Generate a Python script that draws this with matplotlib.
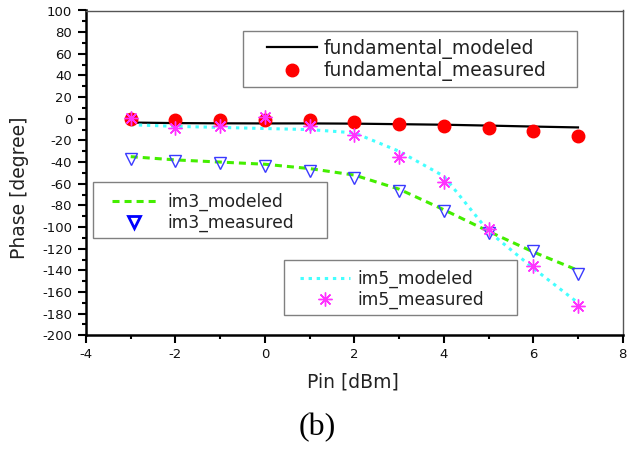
import matplotlib
matplotlib.use('Agg')
import matplotlib.pyplot as plt
from matplotlib.lines import Line2D
from matplotlib.legend import Legend
from matplotlib.patches import Rectangle

plt.rcParams['axes.unicode_minus'] = False

W, H = 638, 449

# data
pin = [-3, -2, -1, 0, 1, 2, 3, 4, 5, 6, 7]
fund_modeled = [-3.5, -4, -4.2, -4.3, -4.3, -4.5, -5, -5.5, -6.3, -7.2, -8]
fund_measured = [0, -1, -1.2, -1.5, -1.5, -3.4, -5, -6.5, -8.6, -11.4, -16]
im3_modeled = [-35, -38, -40, -42, -46, -52, -65, -84, -104, -123, -140]
im3_measured = [-37, -39, -41, -44, -48.6, -55, -67, -85.5, -105.5, -122.5, -143]
im5_modeled = [-5.5, -7, -8, -9, -10, -13, -30, -53, -104, -138, -170]
im5_measured = [1, -8.6, -7, 2, -7, -14.8, -35.4, -58.5, -101.8, -136.4, -173]

xticks = [-4, -2, 0, 2, 4, 6, 8]
yticks = list(range(-200, 101, 20))


def fx(x):
	return x / W


def fy(y):
	return 1 - y / H


fig = plt.figure(figsize=(W / 100, H / 100), dpi=100)
ax = fig.add_axes([fx(86), fy(335.3), (622.7 - 86) / W, (335.3 - 10.5) / H])

l_fm, = ax.plot(pin, fund_modeled, color='black', lw=1.6, zorder=2)
l_3m, = ax.plot(pin, im3_modeled, color='#44ee00', lw=2.2, dashes=(2.3, 1.64), zorder=2)
l_5m, = ax.plot(pin, im5_modeled, color='#44ffff', lw=2.2, dashes=(1.1, 1.55), zorder=2)
p_fd, = ax.plot(pin, fund_measured, 'o', color='#ff0000', ms=9, zorder=3)
ax.plot(pin, im3_measured, 'v', mfc='none', mec='#3a3aff', mew=1, ms=8.5, zorder=4)
p_5d, = ax.plot(pin, im5_measured, marker=(8, 2, 0), ls='none', color='#ff33ff', mew=1, ms=10, zorder=5)

ax.set_xlim(-4, 8)
ax.set_ylim(-200, 100)
ax.set_xticks(xticks)
ax.set_yticks(yticks)
ax.set_xticks(range(-3, 8, 2), minor=True)
ax.set_yticks(range(-190, 100, 20), minor=True)
ax.tick_params(which='major', direction='out', length=6, width=1.5, labelsize=9.5,
               colors='black', labelcolor='#111111')
ax.tick_params(which='minor', direction='out', length=3, width=1.5)
ax.tick_params(axis='y', pad=4)
ax.tick_params(axis='x', pad=3)
for s in ['left', 'bottom']:
	ax.spines[s].set_linewidth(1.8)
for s in ['top', 'right']:
	ax.spines[s].set_linewidth(1)
	ax.spines[s].set_color('#555555')

fig.text(fx(20), fy(188), 'Phase [degree]', rotation=90, ha='center', va='center',
         fontsize=13.5, color='#222222')
fig.text(fx(353), fy(381.7), 'Pin [dBm]', ha='center', va='center', fontsize=13.5,
         color='#222222')
fig.text(fx(317.5), fy(428), '(b)', ha='center', va='center', fontsize=23,
         family='Liberation Serif')

tri_proxy = Line2D([], [], ls='none', marker='v', mfc='none', mec='#0000ff', mew=2, ms=9)


def add_legend(handles, labels, x, y, size, hlen, hpad, box):
	leg = Legend(ax, handles, labels, loc='center left', bbox_to_anchor=(fx(x), fy(y)),
	             bbox_transform=fig.transFigure, frameon=False, borderpad=0,
	             borderaxespad=0, fontsize=size, handlelength=hlen,
	             handletextpad=hpad, labelspacing=0.15)
	for t in leg.get_texts():
		t.set_color('#222222')
	ax.add_artist(leg)
	x0, y0, x1, y1 = box
	fig.add_artist(Rectangle((fx(x0), fy(y1)), (x1 - x0) / W, (y1 - y0) / H,
	                         transform=fig.transFigure, fill=False,
	                         edgecolor='#808080', lw=1))


add_legend([l_fm, p_fd], ['fundamental_modeled', 'fundamental_measured'],
           267, 60, 13.5, 2.67, 0.37, (243, 31, 577, 86.7))
add_legend([l_3m, tri_proxy], ['im3_modeled', 'im3_measured'],
           111.7, 212.5, 12.3, 2.63, 0.6, (93, 182, 327, 238.3))
add_legend([l_5m, p_5d], ['im5_modeled', 'im5_measured'],
           300, 289.2, 12.3, 2.92, 0.41, (284, 259.7, 517.3, 315))

plt.savefig('out.png', dpi=100)
plt.close()
